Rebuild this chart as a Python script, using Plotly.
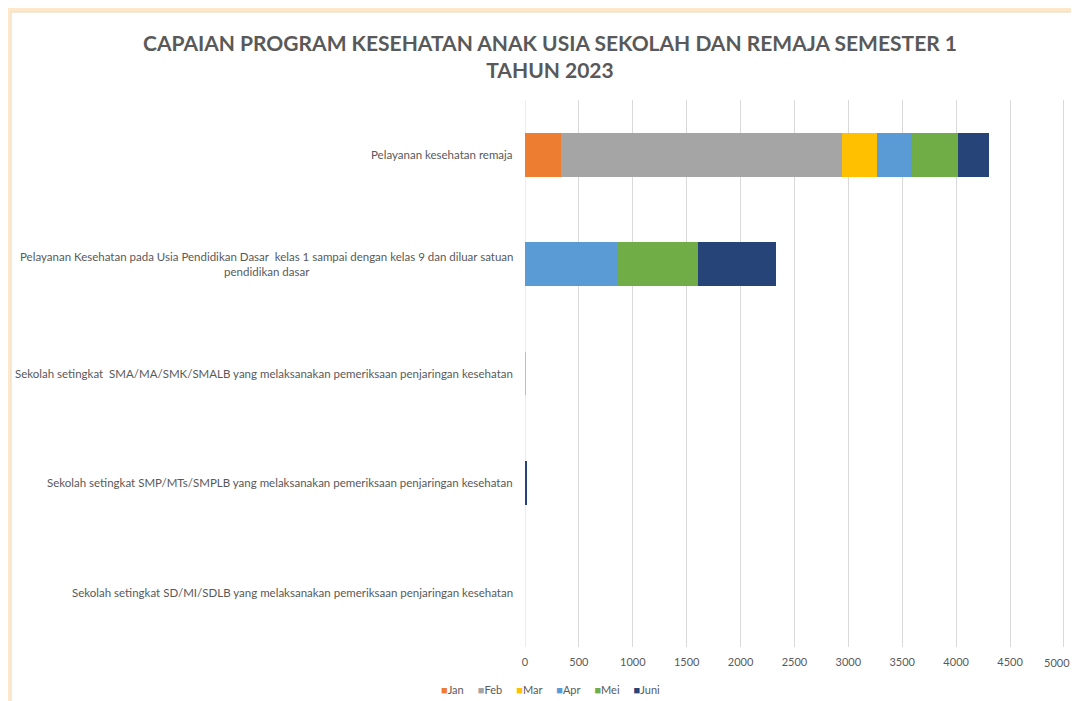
import plotly.graph_objects as go

categories = [
    "Sekolah setingkat SD/MI/SDLB yang melaksanakan pemeriksaan penjaringan kesehatan",
    "Sekolah setingkat SMP/MTs/SMPLB yang melaksanakan pemeriksaan penjaringan kesehatan",
    "Sekolah setingkat  SMA/MA/SMK/SMALB yang melaksanakan pemeriksaan penjaringan kesehatan",
    "Pelayanan Kesehatan pada Usia Pendidikan Dasar  kelas 1 sampai dengan kelas 9 dan diluar satuan<br>pendidikan dasar",
    "Pelayanan kesehatan remaja",
]
months = ["Jan", "Feb", "Mar", "Apr", "Mei", "Juni"]
jan = [0, 0, 0, 0, 334]
feb = [0, 0, 0, 0, 2604]
mar = [0, 0, 8, 0, 330]
apr = [0, 0, 0, 860, 319]
mei = [0, 0, 0, 742, 433]
juni = [0, 10, 0, 724, 287]
series = [jan, feb, mar, apr, mei, juni]
colors = ["#ED7D31", "#A5A5A5", "#FFC000", "#5B9BD5", "#70AD47", "#264478"]
x_ticks = [0, 500, 1000, 1500, 2000, 2500, 3000, 3500, 4000, 4500, 5000]

FONT = "Lato, Calibri, 'Open Sans', sans-serif"
GRAY = "#595959"

W, H = 1063, 693
L, R, T, B = 517, 6, 92, 54
PW, PH = W - L - R, H - T - B

fig = go.Figure()
for name, vals, col in zip(months, series, colors):
    fig.add_trace(go.Bar(
        y=list(range(len(categories))), x=vals, name=name, orientation="h",
        marker=dict(color=col, line=dict(width=0)), showlegend=False,
    ))

# category labels (centered multi-line, right-aligned block)
for i, cat in enumerate(categories):
    fig.add_annotation(
        xref="paper", yref="y", x=0, y=i, xanchor="right", yanchor="middle",
        xshift=-10, text=cat, showarrow=False, align="center",
        font=dict(family=FONT, size=11.5, color=GRAY),
    )

# last x tick label kept inside the page edge
fig.add_annotation(
    xref="x", yref="paper", x=x_ticks[-1], y=0, xanchor="center", yanchor="middle",
    xshift=-7, yshift=-15, text=str(x_ticks[-1]), showarrow=False,
    font=dict(family=FONT, size=11, color=GRAY),
)

# compact legend row
legend_text = "&nbsp;&nbsp;&nbsp;&nbsp;&nbsp;".join(
    f"<span style='color:{c};font-size:11px'>■</span>{m}" for m, c in zip(months, colors)
)
fig.add_annotation(
    xref="paper", yref="paper", x=(542 - L) / PW, y=-(681 - (T + PH)) / PH,
    xanchor="center", yanchor="middle", text=legend_text, showarrow=False,
    font=dict(family=FONT, size=11, color=GRAY),
)

# white panel on cream background
fig.add_shape(
    type="rect", xref="paper", yref="paper", layer="below",
    x0=(3 - L) / PW, x1=1.05, y0=-0.2, y1=1 + (T - 4) / PH,
    fillcolor="white", line=dict(color="#EFE2CF", width=1.5),
)
fig.add_shape(type="line", xref="x", yref="paper", x0=0, x1=0, y0=0, y1=1,
              line=dict(color="#D9D9D9", width=1), layer="below")

fig.update_layout(
    width=W, height=H,
    margin=dict(l=L, r=R, t=T, b=B),
    paper_bgcolor="#FFE8C9",
    plot_bgcolor="rgba(0,0,0,0)",
    barmode="stack",
    bargap=0.6,
    showlegend=False,
    title=dict(
        text="<b>CAPAIAN PROGRAM KESEHATAN ANAK USIA SEKOLAH DAN REMAJA SEMESTER 1<br>TAHUN 2023</b>",
        x=542 / W, xanchor="center", xref="container",
        y=1 - (51 - 8) / H, yanchor="middle", yref="container",
        font=dict(family=FONT, size=21, color=GRAY),
    ),
    xaxis=dict(
        range=[0, 5010], tickvals=x_ticks[:-1] + [x_ticks[-1]],
        ticktext=[str(v) for v in x_ticks[:-1]] + [""],
        showgrid=True, gridcolor="#D9D9D9", gridwidth=1,
        zeroline=False, showline=False, ticks="", ticklabelstandoff=7,
        tickfont=dict(family=FONT, size=11, color=GRAY),
    ),
    yaxis=dict(
        range=[-0.5, 4.5], showticklabels=False, showgrid=False,
        zeroline=False, showline=False, ticks="",
    ),
)

fig.write_html("out.html")
